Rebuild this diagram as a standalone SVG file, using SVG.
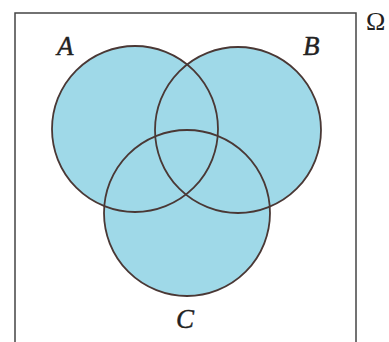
<svg xmlns="http://www.w3.org/2000/svg" width="389" height="342" viewBox="0 0 389 342">
<style>
.fill{fill:#9fd9e8;stroke:none}
.ring{fill:none;stroke:#4a3835;stroke-width:1.8}
.lbl{font-family:"Liberation Serif",serif;font-style:italic;font-size:27px;fill:#222;stroke:#222;stroke-width:0.4}
</style>
<rect x="0" y="0" width="389" height="342" fill="#fff"/>
<rect x="15" y="13" width="341" height="340" fill="none" stroke="#444" stroke-width="1.5"/>
<g id="fills">
<circle class="fill" cx="135" cy="129" r="83"/>
<circle class="fill" cx="238" cy="130" r="83"/>
<circle class="fill" cx="187" cy="213" r="83"/>
</g>
<g id="A"><circle class="ring" cx="135" cy="129" r="83"/><text class="lbl" x="57" y="55">A</text></g>
<g id="B"><circle class="ring" cx="238" cy="130" r="83"/><text class="lbl" x="303" y="55">B</text></g>
<g id="C"><circle class="ring" cx="187" cy="213" r="83"/><text class="lbl" x="176" y="328">C</text></g>
<text x="366" y="30" style="font-family:'Liberation Serif',serif;font-size:26px;fill:#222">Ω</text>
</svg>
